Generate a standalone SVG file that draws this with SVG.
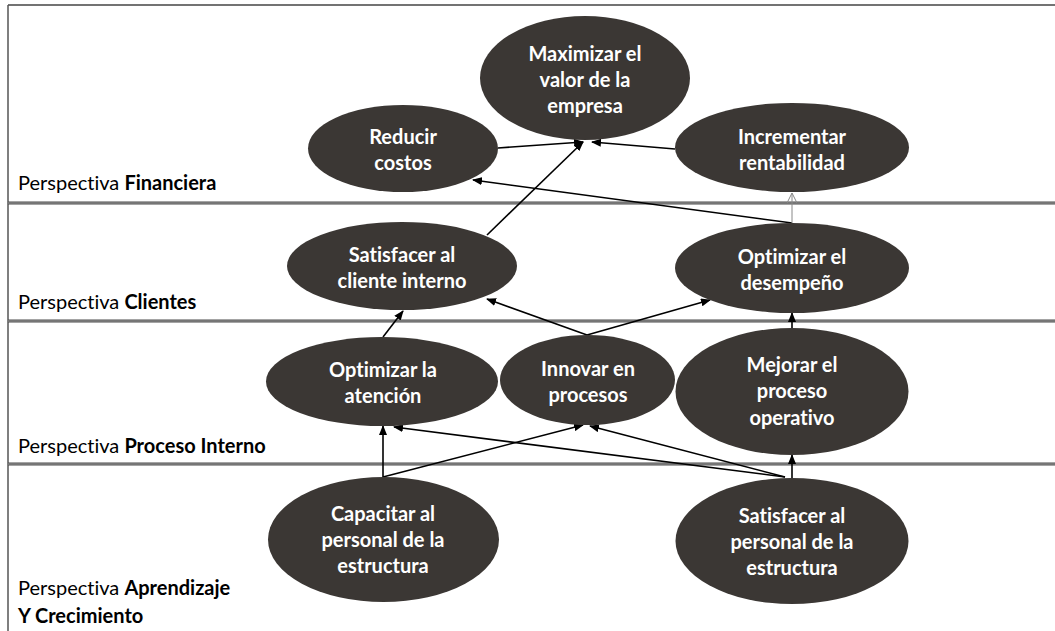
<svg xmlns="http://www.w3.org/2000/svg" width="1055" height="631" viewBox="0 0 1055 631">
<defs>
<marker id="ah" markerUnits="userSpaceOnUse" markerWidth="10" markerHeight="8" refX="9" refY="4" orient="auto">
<path d="M0,0 L10,4 L0,8 Z" fill="#000"/>
</marker>
<marker id="ao" markerUnits="userSpaceOnUse" markerWidth="12" markerHeight="10" refX="10" refY="5" orient="auto">
<path d="M0,0 L10,5 L0,10" fill="none" stroke="#888" stroke-width="1"/>
</marker>
<style>
.node{fill:#3b3734}
.nt{font-family:Lato,"Liberation Sans",sans-serif;font-weight:bold;font-size:20px;fill:#fff;text-anchor:middle;font-variant-ligatures:none;font-feature-settings:"liga" 0,"dlig" 0}
.lbl{font-family:Lato,"Liberation Sans",sans-serif;font-size:20px;fill:#000;font-variant-ligatures:none;font-feature-settings:"liga" 0,"dlig" 0}
.lbl tspan.b{font-weight:bold}
.edge{stroke:#000;stroke-width:1.6;fill:none;marker-end:url(#ah)}
.div1{stroke:#4a4a4a;stroke-width:3}
.div2{stroke:#a0a0a0;stroke-width:1}
</style>
</defs>
<rect width="1055" height="631" fill="#fff"/>
<g id="frame">
<line x1="8" y1="5" x2="1055" y2="5" stroke="#444" stroke-width="1.5"/>
<line x1="8" y1="5" x2="8" y2="631" stroke="#555" stroke-width="1.5"/>
<line class="div1" x1="8" y1="203" x2="1055" y2="203"/>
<line class="div2" x1="8" y1="203" x2="1055" y2="203"/>
<line class="div1" x1="8" y1="321" x2="1055" y2="321"/>
<line class="div2" x1="8" y1="321" x2="1055" y2="321"/>
<line class="div1" x1="8" y1="464" x2="1055" y2="464"/>
<line class="div2" x1="8" y1="464" x2="1055" y2="464"/>
</g>
<g id="labels">
<text class="lbl" x="18" y="190">Perspectiva <tspan class="b">Financiera</tspan></text>
<text class="lbl" x="18" y="309">Perspectiva <tspan class="b">Clientes</tspan></text>
<text class="lbl" x="18" y="453">Perspectiva <tspan class="b">Proceso Interno</tspan></text>
<text class="lbl" x="18" y="595">Perspectiva <tspan class="b">Aprendizaje</tspan></text>
<text class="lbl" x="18" y="623"><tspan class="b">Y Crecimiento</tspan></text>
</g>
<g id="connectors">
<line class="edge" x1="498" y1="148" x2="583" y2="142"/>
<line class="edge" x1="675" y1="149" x2="592" y2="142"/>
<line class="edge" x1="487" y1="235" x2="583" y2="142"/>
<line class="edge" x1="792" y1="223" x2="473" y2="180"/>
<line x1="792" y1="223" x2="792" y2="193" stroke="#888" stroke-width="1" marker-end="url(#ao)"/>
<line class="edge" x1="383" y1="337" x2="403" y2="311"/>
<line class="edge" x1="587" y1="335" x2="487" y2="299"/>
<line class="edge" x1="587" y1="335" x2="710" y2="300"/>
<line class="edge" x1="792" y1="328" x2="792" y2="313"/>
<line class="edge" x1="383" y1="477" x2="383" y2="426"/>
<line class="edge" x1="383" y1="477" x2="583" y2="425"/>
<line class="edge" x1="785" y1="477" x2="394" y2="427"/>
<line class="edge" x1="785" y1="477" x2="590" y2="426"/>
<line class="edge" x1="792" y1="478" x2="792" y2="455"/>
</g>
<g id="n-maximizar">
<ellipse class="node" cx="585" cy="78" rx="105" ry="62"/>
<text class="nt" x="585" y="61">Maximizar el</text>
<text class="nt" x="585" y="87">valor de la</text>
<text class="nt" x="585" y="113">empresa</text>
</g>
<g id="n-reducir">
<ellipse class="node" cx="403" cy="148.5" rx="95" ry="43.5"/>
<text class="nt" x="403" y="144">Reducir</text>
<text class="nt" x="403" y="170">costos</text>
</g>
<g id="n-incrementar">
<ellipse class="node" cx="792" cy="147.5" rx="117" ry="44.5"/>
<text class="nt" x="792" y="144">Incrementar</text>
<text class="nt" x="792" y="170">rentabilidad</text>
</g>
<g id="n-satisfacer-cliente">
<ellipse class="node" cx="402" cy="266" rx="115" ry="44"/>
<text class="nt" x="402" y="262">Satisfacer al</text>
<text class="nt" x="402" y="288">cliente interno</text>
</g>
<g id="n-optimizar-desempeno">
<ellipse class="node" cx="792" cy="268" rx="117" ry="45"/>
<text class="nt" x="792" y="264">Optimizar el</text>
<text class="nt" x="792" y="290">desempeño</text>
</g>
<g id="n-optimizar-atencion">
<ellipse class="node" cx="382" cy="381.5" rx="116" ry="44.5"/>
<text class="nt" x="383" y="377">Optimizar la</text>
<text class="nt" x="383" y="403">atención</text>
</g>
<g id="n-innovar">
<ellipse class="node" cx="587.5" cy="380" rx="87.5" ry="45"/>
<text class="nt" x="588" y="376">Innovar en</text>
<text class="nt" x="588" y="402">procesos</text>
</g>
<g id="n-mejorar">
<ellipse class="node" cx="792" cy="391.5" rx="116.5" ry="63.5"/>
<text class="nt" x="792" y="372">Mejorar el</text>
<text class="nt" x="792" y="398">proceso</text>
<text class="nt" x="792" y="425">operativo</text>
</g>
<g id="n-capacitar">
<ellipse class="node" cx="383.5" cy="539.5" rx="115.5" ry="62.5"/>
<text class="nt" x="383" y="521">Capacitar al</text>
<text class="nt" x="383" y="547">personal de la</text>
<text class="nt" x="383" y="573">estructura</text>
</g>
<g id="n-satisfacer-personal">
<ellipse class="node" cx="792" cy="541" rx="116.5" ry="63"/>
<text class="nt" x="792" y="523">Satisfacer al</text>
<text class="nt" x="792" y="549">personal de la</text>
<text class="nt" x="792" y="575">estructura</text>
</g>
</svg>
